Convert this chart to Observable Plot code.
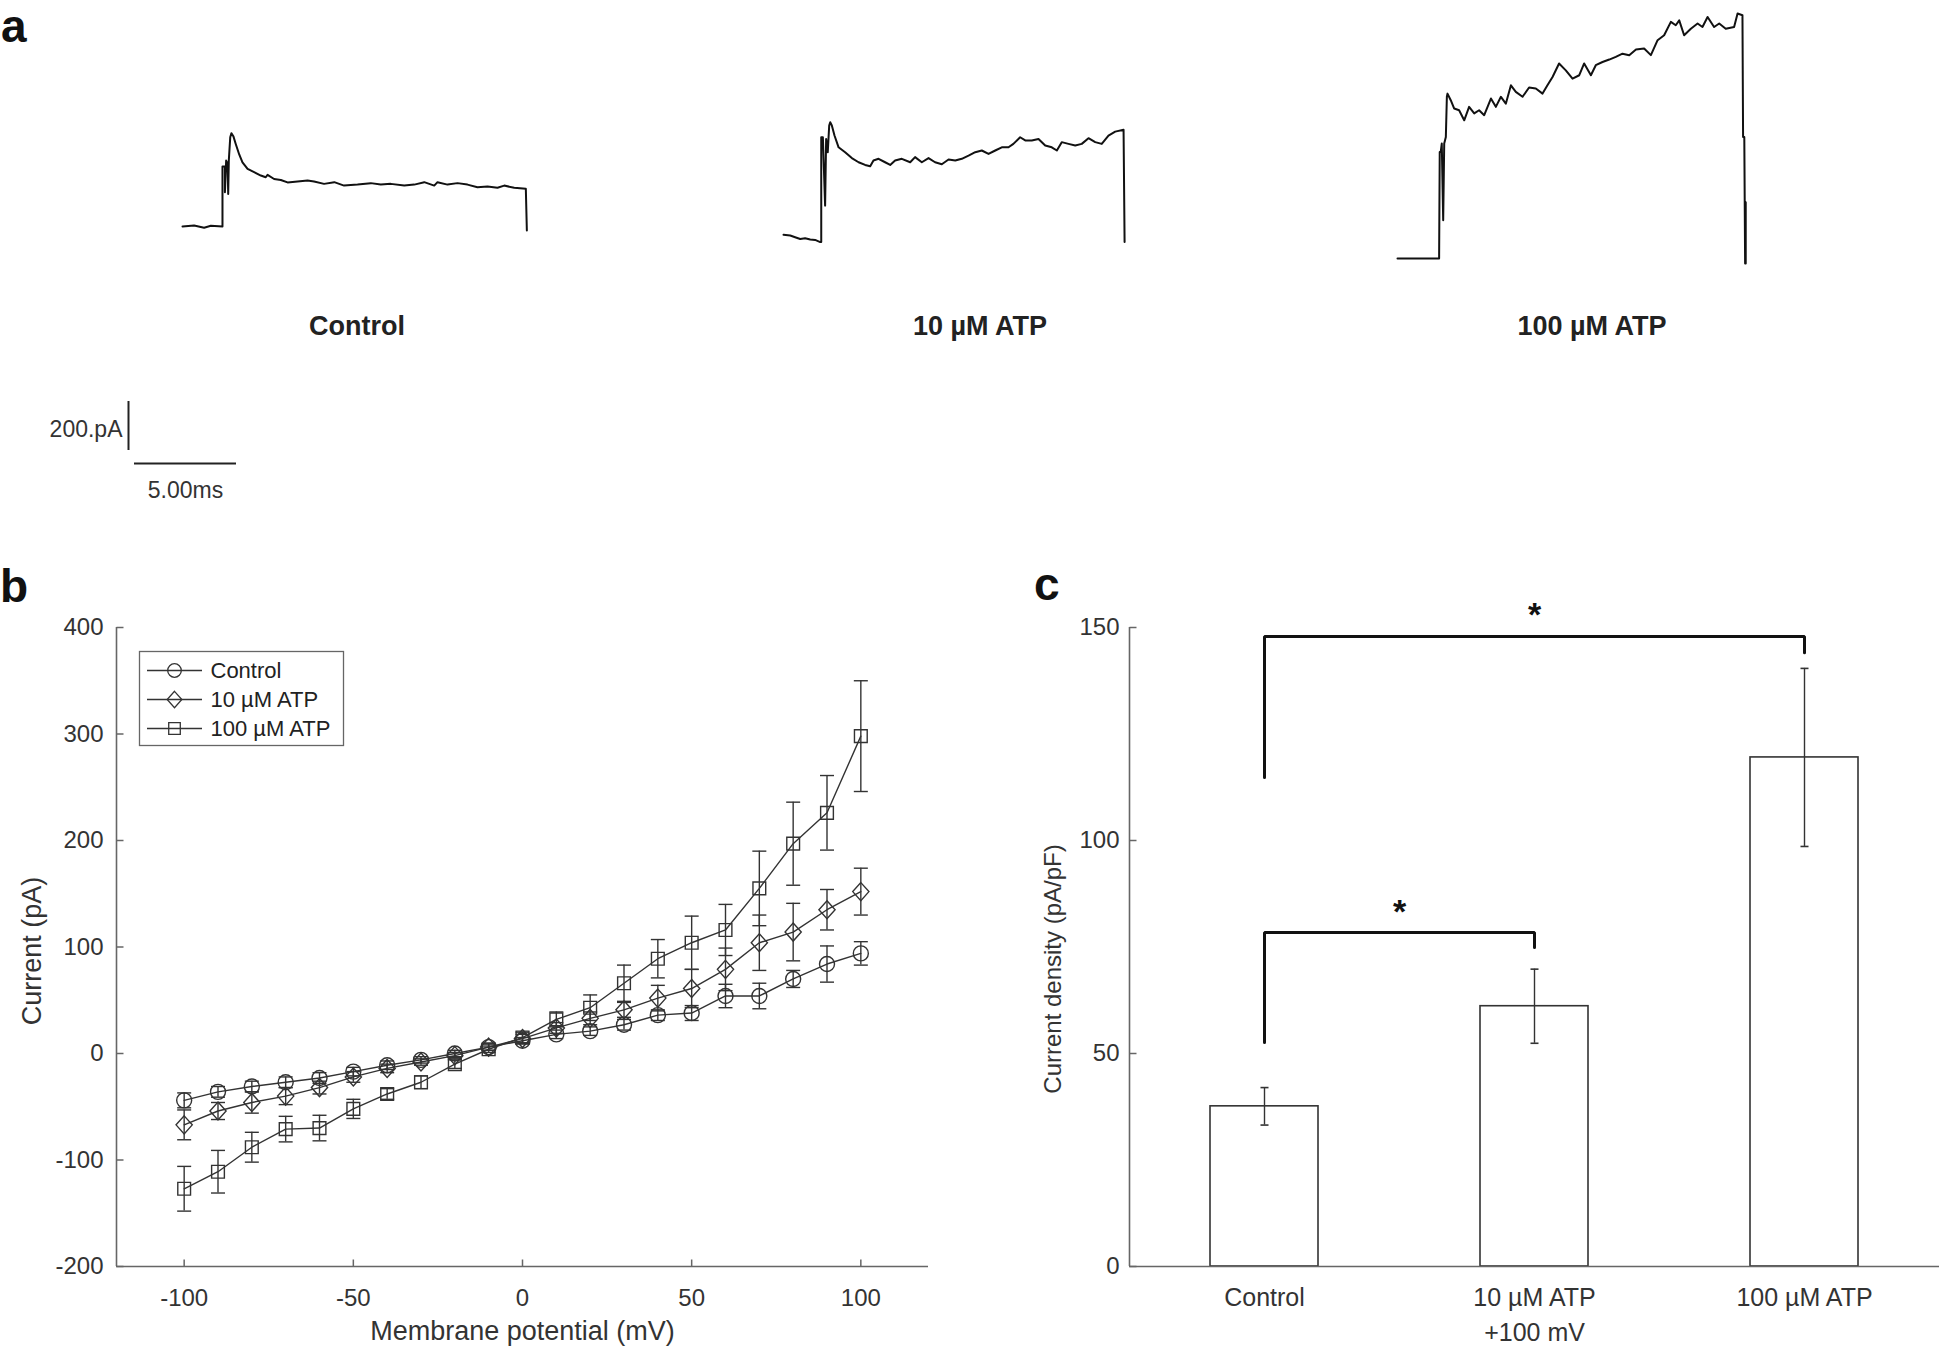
<!DOCTYPE html>
<html><head><meta charset="utf-8">
<script src="https://cdn.jsdelivr.net/npm/d3@7"></script>
<script src="https://cdn.jsdelivr.net/npm/@observablehq/plot@0.6"></script>
<style>
html,body{margin:0;padding:0;background:#fff;}
#page{position:relative;width:1946px;height:1353px;overflow:hidden;font-family:"Liberation Sans",Arial,sans-serif;color:#333;background:#fff;}
.letter{position:absolute;font-weight:bold;font-size:46px;color:#111;line-height:1;}
.tlabel{position:absolute;font-size:27px;font-weight:bold;color:#222;transform:translateX(-50%);white-space:nowrap;line-height:1;}
</style></head><body><div id="page"></div>
<script>
// ================= DATA =================
// Panel a: example current traces  [time (ms), current (pA) relative to holding]
const traceNames = ["Control", "10 µM ATP", "100 µM ATP"];
const traceControl = [[0,0],[0.57,4],[1.06,-5],[1.39,3],[1.96,0],[1.96,245],[2.08,245],[2.08,140],[2.14,269],[2.21,256],[2.24,133],[2.27,269],[2.34,364],[2.40,381],[2.50,367],[2.61,337],[2.78,294],[2.94,262],[3.19,235],[3.51,222],[3.84,208],[4.08,201],[4.17,211],[4.49,194],[4.82,190],[5.15,180],[5.64,184],[6.13,188],[6.45,184],[6.94,174],[7.44,181],[7.92,167],[8.58,171],[9.23,177],[9.72,171],[10.21,174],[10.87,167],[11.36,171],[11.85,181],[12.34,167],[12.50,181],[12.99,171],[13.48,177],[13.97,171],[14.46,160],[14.95,163],[15.44,158],[15.77,167],[16.26,158],[16.83,154],[16.88,-16]];
const trace10 = [[0,3],[0.33,0],[0.57,-7],[0.82,-14],[1.06,-11],[1.31,-16],[1.55,-18],[1.80,-27],[1.85,-27],[1.85,401],[1.93,401],[2.04,122],[2.09,394],[2.17,340],[2.24,449],[2.29,462],[2.37,449],[2.50,408],[2.70,360],[3.02,340],[3.35,316],[3.68,299],[4.00,288],[4.25,283],[4.41,306],[4.66,313],[4.98,299],[5.23,288],[5.47,306],[5.80,313],[6.21,299],[6.45,320],[6.78,299],[7.11,316],[7.43,299],[7.76,291],[8.09,310],[8.42,306],[8.74,313],[9.07,326],[9.40,340],[9.72,347],[10.05,333],[10.38,347],[10.70,360],[11.03,360],[11.27,374],[11.60,401],[11.85,388],[12.17,388],[12.50,394],[12.83,367],[13.15,360],[13.40,347],[13.64,381],[13.97,374],[14.30,367],[14.62,374],[14.95,397],[15.28,381],[15.60,374],[15.93,408],[16.26,424],[16.67,432],[16.72,-27]];
const trace100 = [[0,0],[2.04,0],[2.07,435],[2.12,435],[2.17,469],[2.24,156],[2.29,469],[2.37,496],[2.42,660],[2.45,673],[2.61,646],[2.78,612],[3.02,605],[3.27,564],[3.51,619],[3.76,592],[4.00,605],[4.25,585],[4.58,653],[4.82,619],[5.07,660],[5.31,632],[5.56,707],[5.80,680],[6.13,660],[6.45,698],[6.78,694],[7.11,673],[7.35,707],[7.60,741],[7.92,796],[8.25,768],[8.58,734],[8.91,748],[9.15,796],[9.48,748],[9.72,789],[10.05,802],[10.38,812],[10.70,823],[11.03,836],[11.36,830],[11.69,853],[12.09,857],[12.42,830],[12.75,891],[13.07,911],[13.40,966],[13.64,952],[13.81,972],[14.05,911],[14.38,938],[14.71,959],[14.95,945],[15.20,986],[15.52,945],[15.77,959],[16.09,938],[16.50,945],[16.67,1000],[16.91,993],[16.94,496],[17.00,496],[17.04,-20],[17.07,230],[17.07,-20]];
const scaleBarCurrent = 200;   // pA
const scaleBarTime = 5;        // ms
const scaleBarLabels = ["200.pA", "5.00ms"];

// Panel b: I-V curves (mean ± error, pA)
const voltages = [-100,-90,-80,-70,-60,-50,-40,-30,-20,-10,0,10,20,30,40,50,60,70,80,90,100];
const ivNames = ["Control", "10 µM ATP", "100 µM ATP"];
const ivControl    = [-44,-36,-31,-27,-23,-17,-11,-6,0,6,12,18,21,27,36,38,54,54,70,84,94];
const ivControlErr = [7,5,5,5,5,4,4,3,3,3,3,4,4,5,5,7,11,12,8,17,11];
const iv10         = [-67,-54,-46,-40,-32,-22,-14,-8,-2,6,14,24,33,41,52,61,79,104,114,135,152];
const iv10Err      = [14,8,10,8,6,5,4,3,3,3,4,5,6,7,12,18,20,26,27,19,22];
const iv100        = [-127,-111,-88,-71,-70,-52,-38,-27,-10,4,15,32,43,66,89,104,116,155,197,226,298];
const iv100Err     = [21,20,14,12,12,9,5,6,4,3,5,7,12,17,18,25,24,35,39,35,52];
const xTicksB = [-100,-50,0,50,100];
const yTicksB = [-200,-100,0,100,200,300,400];
const xLabelB = "Membrane potential (mV)";
const yLabelB = "Current (pA)";

// Panel c: current density at +100 mV
const barCategories = ["Control", "10 µM ATP\n+100 mV", "100 µM ATP"];
const barMeans = [37.6, 61.1, 119.5];
const barErrs  = [4.4, 8.7, 20.9];
const yTicksC = [0,50,100,150];
const yLabelC = "Current density (pA/pF)";
const sigFrom = [1, 1];          // category numbers compared
const sigTo   = [2, 3];
const sigBarY   = [78.4, 147.9]; // bracket height
const sigLegFrom = [52.6, 114.8];
const sigLegTo   = [74.9, 144.1];
const sigStarY = [84, 153.5];
const sigText = ["*", "*"];

// ================= STYLE / LAYOUT =================
const page = document.getElementById("page");
function place(node, left, top) {
  const d = document.createElement("div");
  d.style.position = "absolute"; d.style.left = left + "px"; d.style.top = top + "px";
  d.appendChild(node); page.appendChild(d); return d;
}
function htmlText(cls, txt, left, top) {
  const d = document.createElement("div"); d.className = cls; d.textContent = txt;
  d.style.left = left + "px"; d.style.top = top + "px"; page.appendChild(d);
}
const baseStyle = {background: "transparent", overflow: "visible", color: "#333", fontFamily: "Liberation Sans, Arial, sans-serif"};
const AX = "#666", LC = "#333";

// custom symbols
const symCircle = {draw(c, s){ const r = Math.sqrt(s/Math.PI); c.moveTo(r,0); c.arc(0,0,r,0,2*Math.PI); c.closePath(); }};
const symDiamond = {draw(c, s){ const r = Math.sqrt(s/Math.PI); const h = r*1.2, w = r*1.08; c.moveTo(0,-h); c.lineTo(w,0); c.lineTo(0,h); c.lineTo(-w,0); c.closePath(); }};
const symSquare = {draw(c, s){ const r = Math.sqrt(s/Math.PI); const a = r*0.85; c.moveTo(-a,-a); c.lineTo(a,-a); c.lineTo(a,a); c.lineTo(-a,a); c.closePath(); }};
const symCap = {draw(c, s){ const r = Math.sqrt(s/Math.PI); c.moveTo(-r,0); c.lineTo(r,0); }};
const tickRight = {draw(c){ c.moveTo(0,0); c.lineTo(7,0); }};
const tickUp = {draw(c){ c.moveTo(0,0); c.lineTo(0,-7); }};

// ---------- Panel a ----------
const KX = 20.4, KY = 0.245; // px per ms, px per pA
function tracePlot(data, x0, y0) {
  const W = 420, H = 290, ox = 20, oy = 270;
  const svg = Plot.plot({
    width: W, height: H, margin: 0, style: baseStyle,
    x: {type: "linear", domain: [0, 1], range: [ox, ox + KX], axis: null},
    y: {type: "linear", domain: [0, 1], range: [oy, oy - KY], axis: null},
    marks: [Plot.line(data, {x: d => d[0], y: d => d[1], stroke: "#111", strokeWidth: 2, strokeLinejoin: "round"})]
  });
  place(svg, x0 - ox, y0 - oy);
}
tracePlot(traceControl, 181.7, 226);
tracePlot(trace10, 783.3, 235);
tracePlot(trace100, 1396.7, 258.3);
htmlText("tlabel", traceNames[0], 357, 313);
htmlText("tlabel", traceNames[1], 980, 313);
htmlText("tlabel", traceNames[2], 1592, 313);

const sb = Plot.plot({
  width: 260, height: 140, margin: 0, style: baseStyle,
  x: {type: "linear", domain: [0, 1], range: [134, 134 + KX], axis: null},
  y: {type: "linear", domain: [0, 1], range: [70, 70 - KY], axis: null},
  marks: [
    Plot.ruleX([0], {y1: 0, y2: scaleBarCurrent, dx: -6, stroke: "#222", strokeWidth: 2}),
    Plot.ruleY([0], {x1: 0, x2: scaleBarTime, dy: 13, stroke: "#222", strokeWidth: 2}),
    Plot.text([scaleBarLabels[0]], {x: 0, y: scaleBarCurrent / 2, dx: -12, dy: 4, textAnchor: "end", fontSize: 23, fill: "#333"}),
    Plot.text([scaleBarLabels[1]], {x: scaleBarTime / 2, y: 0, dy: 40, fontSize: 23, fill: "#333"})
  ]
});
place(sb, 0, 380);

htmlText("letter", "a", 1, 3);
htmlText("letter", "b", 0, 563);
htmlText("letter", "c", 1034, 561);

// ---------- Panel b ----------
const ivSeries = [
  {name: ivNames[0], mean: ivControl, err: ivControlErr, symbol: symCircle, r: 7.5},
  {name: ivNames[1], mean: iv10, err: iv10Err, symbol: symDiamond, r: 7.5},
  {name: ivNames[2], mean: iv100, err: iv100Err, symbol: symSquare, r: 7.5}
];
const marksB = [
  Plot.ruleX([-120], {stroke: AX, strokeWidth: 1.6}),
  Plot.ruleY([-200], {stroke: AX, strokeWidth: 1.6}),
  Plot.dot(yTicksB, {x: -120, y: d => d, symbol: tickRight, stroke: AX, fill: "none", strokeWidth: 1.5}),
  Plot.dot(xTicksB, {x: d => d, y: -200, symbol: tickUp, stroke: AX, fill: "none", strokeWidth: 1.5}),
  Plot.axisY(yTicksB, {tickSize: 0, tickPadding: 13, fontSize: 24, tickFormat: d => String(d), label: null}),
  Plot.axisX(xTicksB, {tickSize: 0, tickPadding: 22, fontSize: 24, tickFormat: d => String(d), label: null}),
  Plot.text([xLabelB], {frameAnchor: "bottom", dy: 73, fontSize: 27, fill: "#333"}),
  Plot.text([yLabelB], {frameAnchor: "left", textAnchor: "middle", dx: -84, dy: 4, rotate: -90, fontSize: 27, fill: "#333"})
];
for (const s of ivSeries) {
  const rows = voltages.map((v, j) => ({v, i: s.mean[j], e: s.err[j]}));
  marksB.push(
    Plot.line(rows, {x: "v", y: "i", stroke: LC, strokeWidth: 1.4}),
    Plot.ruleX(rows, {x: "v", y1: d => d.i - d.e, y2: d => d.i + d.e, stroke: LC, strokeWidth: 1.4}),
    Plot.dot(rows, {x: "v", y: d => d.i + d.e, symbol: symCap, r: 7, stroke: LC, fill: "none", strokeWidth: 1.4}),
    Plot.dot(rows, {x: "v", y: d => d.i - d.e, symbol: symCap, r: 7, stroke: LC, fill: "none", strokeWidth: 1.4}),
    Plot.dot(rows, {x: "v", y: "i", symbol: s.symbol, r: s.r, stroke: LC, fill: "none", strokeWidth: 1.4})
  );
}
const pb = Plot.plot({
  width: 960, height: 790, marginLeft: 116, marginRight: 32, marginTop: 67, marginBottom: 84,
  style: baseStyle,
  x: {domain: [-120, 120], label: null},
  y: {domain: [-200, 400], label: null},
  marks: marksB
});
place(pb, 0, 560);

// legend for panel b
const lgMarks = [Plot.frame({stroke: AX, strokeWidth: 1.3, fill: "white"})];
ivSeries.forEach(s => {
  lgMarks.push(
    Plot.ruleY([s.name], {y: d => d, x1: 9, x2: 64, stroke: LC, strokeWidth: 1.3}),
    Plot.dot([s.name], {x: 36, y: d => d, symbol: s.symbol, r: 6.8, stroke: LC, fill: "none", strokeWidth: 1.3})
  );
});
lgMarks.push(Plot.text(ivNames, {x: 72, y: d => d, text: d => d, textAnchor: "start", fontSize: 22, fill: "#222"}));
const lg = Plot.plot({
  width: 206, height: 96, margin: 1, style: {...baseStyle, background: "white"},
  x: {type: "identity", axis: null},
  y: {type: "point", domain: ivNames, range: [20, 78], padding: 0, axis: null},
  marks: lgMarks
});
place(lg, 138, 650);

// ---------- Panel c ----------
const bars = barCategories.map((c, i) => ({pos: i + 1, cat: c, mean: barMeans[i], err: barErrs[i]}));
const bracketPts = [];
sigFrom.forEach((f, k) => {
  bracketPts.push({k, x: f, y: sigLegFrom[k]}, {k, x: f, y: sigBarY[k]}, {k, x: sigTo[k], y: sigBarY[k]}, {k, x: sigTo[k], y: sigLegTo[k]});
});
const stars = sigFrom.map((f, k) => ({x: (f + sigTo[k]) / 2, y: sigStarY[k], t: sigText[k]}));
const BW = 0.2; // half bar width in category units
const pc = Plot.plot({
  width: 946, height: 790, marginLeft: 129, marginRight: 7, marginTop: 67, marginBottom: 84,
  style: baseStyle,
  x: {domain: [0.5, 3.5], label: null},
  y: {domain: [0, 150], label: null},
  marks: [
    Plot.rectY(bars, {x1: d => d.pos - BW, x2: d => d.pos + BW, y1: 0, y2: "mean", fill: "white", stroke: LC, strokeWidth: 1.6}),
    Plot.ruleX(bars, {x: "pos", y1: d => d.mean - d.err, y2: d => d.mean + d.err, stroke: LC, strokeWidth: 1.4}),
    Plot.dot(bars, {x: "pos", y: d => d.mean + d.err, symbol: symCap, r: 4, stroke: LC, fill: "none", strokeWidth: 1.6}),
    Plot.dot(bars, {x: "pos", y: d => d.mean - d.err, symbol: symCap, r: 4, stroke: LC, fill: "none", strokeWidth: 1.6}),
    Plot.ruleX([0.5], {stroke: AX, strokeWidth: 1.6}),
    Plot.ruleY([0], {stroke: AX, strokeWidth: 1.6}),
    Plot.dot(yTicksC, {x: 0.5, y: d => d, symbol: tickRight, stroke: AX, fill: "none", strokeWidth: 1.5}),
    Plot.axisY(yTicksC, {tickSize: 0, tickPadding: 10, fontSize: 24, tickFormat: d => String(d), label: null}),
    Plot.axisX([1, 2, 3], {tickSize: 0, tickPadding: 15, fontSize: 25, lineHeight: 1.4, tickFormat: i => barCategories[i - 1], label: null}),
    Plot.text([yLabelC], {frameAnchor: "left", textAnchor: "middle", dx: -76, dy: 22, rotate: -90, fontSize: 24, fill: "#333"}),
    Plot.line(bracketPts, {x: "x", y: "y", z: "k", stroke: "#111", strokeWidth: 3, strokeLinejoin: "miter"}),
    Plot.text(stars, {x: "x", y: "y", text: "t", dy: 3, fontSize: 34, fontWeight: "bold", fill: "#111"})
  ]
});
place(pc, 1000, 560);
</script></body></html>
